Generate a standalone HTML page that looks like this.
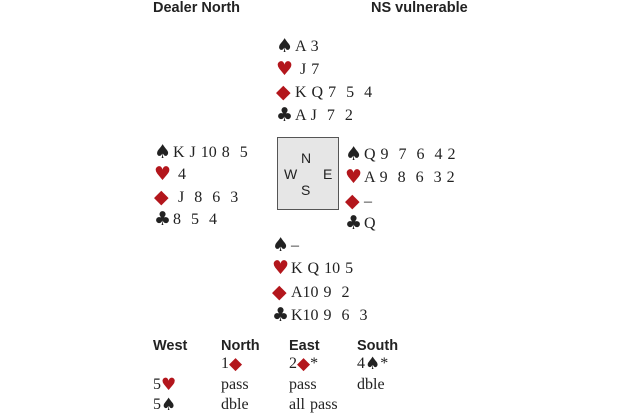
<!DOCTYPE html>
<html><head><meta charset="utf-8"><style>
body{margin:0;width:620px;height:413px;background:#fff;position:relative;overflow:hidden;font-family:"Liberation Serif",serif;color:#222}
.t{position:absolute;font-size:16px;line-height:18px;white-space:pre;word-spacing:1px}
.h{position:absolute;font-family:"Liberation Sans",sans-serif;font-weight:bold;font-size:14.5px;line-height:16px;color:#222}
.r{color:#b3161c}
.s{font-family:"DejaVu Sans",sans-serif;font-size:19px;display:inline-block;width:19px;vertical-align:-1px}
.a{font-family:"DejaVu Sans",sans-serif;font-size:17px;vertical-align:-1px}
.box{position:absolute;left:277px;top:137px;width:60px;height:71px;border:1px solid #555;background:#e6e6e6}
.c{position:absolute;font-family:"Liberation Sans",sans-serif;font-size:14px;line-height:14px;color:#222}
</style></head><body>
<div class="h" style="left:153px;top:0px">Dealer North</div>
<div class="h" style="left:371px;top:0px">NS vulnerable</div>

<div class="t" style="left:276px;top:37px"><span class="s">♠</span>A 3</div>
<div class="t" style="left:276px;top:60px"><span class="s r">♥</span> J 7</div>
<div class="t" style="left:276px;top:83px"><span class="s r">◆</span>K Q 7  5  4</div>
<div class="t" style="left:276px;top:106px"><span class="s">♣</span>A J  7  2</div>

<div class="t" style="left:154px;top:143px"><span class="s">♠</span>K J 10 8  5</div>
<div class="t" style="left:154px;top:165px"><span class="s r">♥</span> 4</div>
<div class="t" style="left:154px;top:188px"><span class="s r">◆</span> J  8  6  3</div>
<div class="t" style="left:154px;top:210px"><span class="s">♣</span>8  5  4</div>

<div class="box"></div>
<div class="c" style="left:301px;top:151px">N</div>
<div class="c" style="left:284px;top:167px">W</div>
<div class="c" style="left:323px;top:167px">E</div>
<div class="c" style="left:301px;top:183px">S</div>

<div class="t" style="left:345px;top:145px"><span class="s">♠</span>Q 9  7  6  4 2</div>
<div class="t" style="left:345px;top:168px"><span class="s r">♥</span>A 9  8  6  3 2</div>
<div class="t" style="left:345px;top:192px"><span class="s r">◆</span>–</div>
<div class="t" style="left:345px;top:214px"><span class="s">♣</span>Q</div>

<div class="t" style="left:272px;top:236px"><span class="s">♠</span>–</div>
<div class="t" style="left:272px;top:259px"><span class="s r">♥</span>K Q 10 5</div>
<div class="t" style="left:272px;top:283px"><span class="s r">◆</span>A10 9  2</div>
<div class="t" style="left:272px;top:306px"><span class="s">♣</span>K10 9  6  3</div>

<div class="h" style="left:153px;top:338px">West</div>
<div class="h" style="left:221px;top:338px">North</div>
<div class="h" style="left:289px;top:338px">East</div>
<div class="h" style="left:357px;top:338px">South</div>

<div class="t" style="left:221px;top:355px">1<span class="a r">◆</span></div>
<div class="t" style="left:289px;top:355px">2<span class="a r">◆</span>*</div>
<div class="t" style="left:357px;top:355px">4<span class="a">♠</span>*</div>
<div class="t" style="left:153px;top:376px">5<span class="a r">♥</span></div>
<div class="t" style="left:221px;top:376px">pass</div>
<div class="t" style="left:289px;top:376px">pass</div>
<div class="t" style="left:357px;top:376px">dble</div>
<div class="t" style="left:153px;top:396px">5<span class="a">♠</span></div>
<div class="t" style="left:221px;top:396px">dble</div>
<div class="t" style="left:289px;top:396px">all pass</div>
</body></html>
